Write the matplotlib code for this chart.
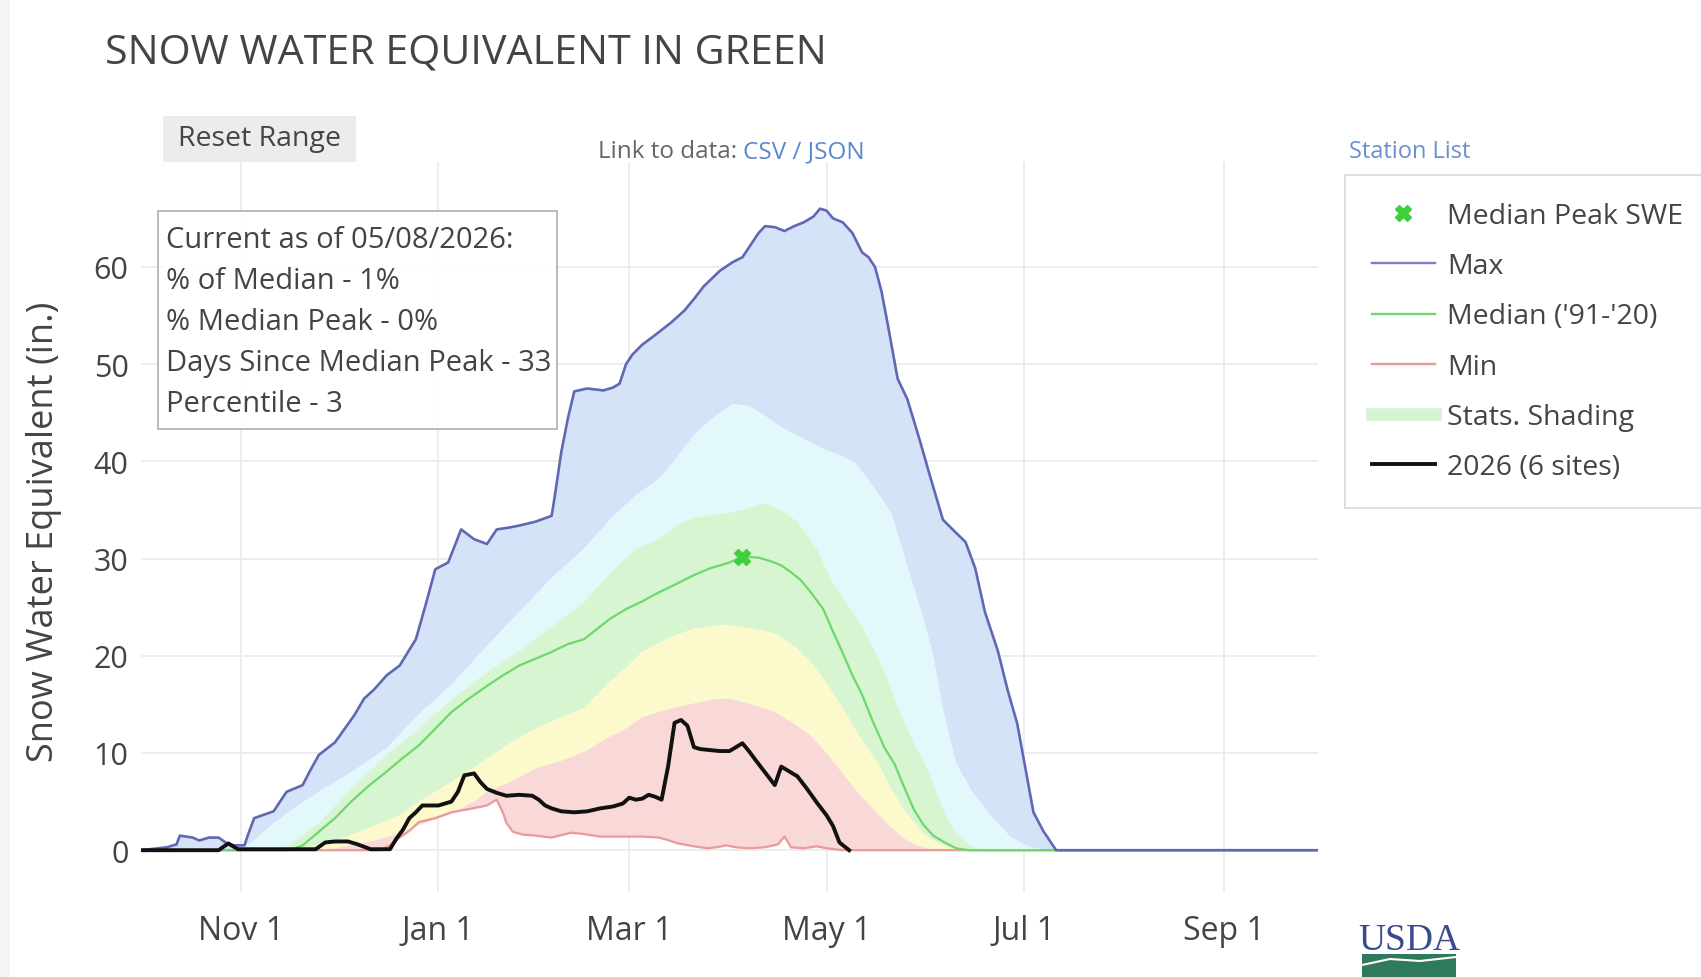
import numpy as np
import pandas as pd
import matplotlib
matplotlib.use("Agg")
import matplotlib.pyplot as plt
import matplotlib.dates as mdates
from matplotlib.lines import Line2D
from matplotlib.patches import Rectangle

plt.rcParams['font.family'] = ['Open Sans', 'DejaVu Sans']

# ---------------- data (days since Oct 1, 2025 ; SWE inches) ----------------
water_year_start = "2025-10-01"

max_days = [0, 8, 11, 12, 16, 18, 21, 24, 27, 29, 32, 33, 35, 41, 45, 50, 52, 55, 60, 63, 66,
            69, 72, 76, 80, 85, 88, 91, 95, 99, 103, 107, 110, 114, 117, 122, 127, 128,
            130, 132, 134, 138, 143, 146, 148, 150, 152, 155, 159, 164, 168, 171, 174, 179,
            183, 186, 189, 191, 193, 196, 199, 202, 205, 208, 210, 212, 214, 217, 220, 223,
            225, 227, 229, 231, 234, 237, 241, 244, 248, 251, 255, 258, 261, 265, 268, 271,
            276, 279, 283, 364]
max_vals = [0, 0.3, 0.6, 1.5, 1.3, 1.0, 1.3, 1.3, 0.6, 0.5, 0.5, 1.5, 3.3, 4, 6, 6.7, 8, 9.8,
            11.1, 12.5, 13.9, 15.6, 16.5, 18, 19, 21.7, 25.2, 28.9, 29.6, 33, 32, 31.5, 33,
            33.2, 33.4, 33.8, 34.4, 36.5, 41, 44.4, 47.2, 47.5, 47.3, 47.6, 48, 50, 51, 52,
            53, 54.3, 55.5, 56.7, 58, 59.6, 60.5, 61, 62.5, 63.5, 64.2, 64.1, 63.7, 64.2,
            64.6, 65.2, 66, 65.8, 65, 64.6, 63.5, 61.5, 61, 60, 57.5, 54, 48.5, 46.4, 42,
            38.5, 34, 33, 31.7, 29, 24.5, 20.5, 16.5, 13, 3.9, 2.0, 0, 0]

p90_days = [0, 30, 35, 40, 46, 55, 65, 76, 86, 96, 107, 117, 127, 137, 145, 153, 161, 166,
            171, 177, 183, 188, 192, 198, 205, 211, 217, 221, 226, 232, 237, 242, 245, 248,
            252, 257, 263, 269, 275, 280, 364]
p90_vals = [0, 0, 1, 2.5, 4, 6, 8, 10.5, 14, 17, 21, 24.5, 28, 31, 34, 36.5, 38.4, 40.5,
            42.7, 44.5, 45.9, 45.7, 44.9, 43.5, 42.3, 41.3, 40.5, 39.8, 37.6, 34.7, 29.2,
            23.7, 20, 14.5, 9, 6, 3.5, 1.3, 0.3, 0, 0]

p70_days = [0, 40, 46, 55, 65, 76, 86, 96, 107, 117, 127, 137, 145, 153, 160, 166, 171,
            176, 182, 188, 193, 198, 203, 209, 214, 219, 223, 227, 231, 235, 239, 243, 246,
            249, 252, 256, 260, 364]
p70_vals = [0, 0, 0.5, 2.8, 6.3, 9.8, 12.5, 15.5, 18.3, 20.5, 23, 25.5, 28.5, 31, 32, 33.5,
            34.2, 34.5, 34.7, 35.2, 35.7, 35, 33.8, 31, 27.5, 25, 23, 20.5, 17.5, 14, 11,
            8.5, 6, 3.5, 1.8, 0.6, 0, 0]

median_days = [0, 46, 50, 55, 60, 65, 70, 76, 81, 86, 91, 96, 101, 107, 112, 117, 122, 127,
               132, 137, 145, 150, 155, 160, 165, 171, 176, 182, 186, 191, 195, 198, 201,
               204, 207, 211, 214, 217, 220, 223, 226, 230, 233, 236, 239, 242, 245, 248,
               252, 256, 364]
median_vals = [0, 0, 0.5, 1.9, 3.3, 5, 6.5, 8.1, 9.5, 10.8, 12.5, 14.2, 15.5, 16.9, 18, 19,
               19.7, 20.4, 21.2, 21.7, 23.8, 24.8, 25.6, 26.5, 27.3, 28.3, 29, 29.6, 30.2,
               30.1, 29.7, 29.3, 28.6, 27.8, 26.6, 24.8, 22.5, 20.3, 18, 16, 13.5, 10.5, 8.9,
               6.5, 4.2, 2.6, 1.5, 0.9, 0.2, 0, 0]

p30_days = [0, 50, 54, 62, 70, 80, 86, 96, 107, 114, 122, 129, 137, 144, 150, 155, 163, 171,
            181, 189, 196, 202, 207, 212, 217, 222, 228, 232, 236, 242, 246, 250, 254, 364]
p30_vals = [0, 0, 0.5, 1.2, 2.2, 3.6, 5, 7, 9.4, 11, 12.5, 13.5, 14.6, 17, 18.8, 20.4, 21.8,
            22.8, 23.2, 22.8, 22.3, 21, 19.4, 17.2, 14.6, 11.8, 8.9, 6.3, 4.1, 1.7, 0.8, 0.3,
            0, 0]

p10_days = [0, 54, 60, 65, 72, 80, 86, 95, 103, 107, 114, 122, 130, 137, 144, 150, 155, 163,
            171, 177, 182, 189, 196, 202, 207, 212, 217, 222, 228, 232, 236, 240, 243, 247,
            364]
p10_vals = [0, 0, 0.2, 0.5, 1, 1.7, 2.6, 3.6, 5, 6, 7, 8.4, 9.2, 10.1, 11.5, 12.5, 13.7,
            14.5, 15.1, 15.5, 15.6, 15, 14.2, 13, 11.8, 10, 7.9, 5.8, 3.7, 2.3, 1.2, 0.5, 0.2,
            0, 0]

min_days = [0, 74, 77, 80, 83, 86, 91, 96, 101, 107, 110, 112, 113, 115, 118, 122, 127, 133,
            136, 142, 148, 155, 160, 163, 166, 171, 175, 178, 181, 184, 188, 193, 197, 199,
            201, 205, 209, 212, 217, 364]
min_vals = [0, 0, 0.5, 1.3, 2.0, 2.9, 3.3, 3.9, 4.2, 4.6, 5.2, 3.8, 2.8, 1.9, 1.6, 1.5, 1.3,
            1.8, 1.7, 1.4, 1.4, 1.4, 1.3, 1.05, 0.7, 0.4, 0.2, 0.3, 0.5, 0.3, 0.2, 0.3, 0.6,
            1.4, 0.3, 0.2, 0.4, 0.2, 0, 0]

cur_days = [0, 24, 27, 30, 54, 57, 60, 64, 67, 71, 77, 79, 81, 83, 85, 87, 90, 92, 96, 98,
            100, 103, 105, 107, 110, 113, 117, 121, 123, 125, 127, 130, 134, 138, 142, 146,
            149, 151, 153, 155, 157, 159, 161, 163, 165, 167, 169, 171, 173, 176, 179, 182,
            184, 186, 188, 190, 193, 196, 198, 200, 203, 206, 209, 212, 214, 216, 219]
cur_vals = [0, 0, 0.7, 0.1, 0.1, 0.8, 0.9, 0.9, 0.6, 0.1, 0.1, 1.2, 2.1, 3.3, 3.9, 4.6, 4.6,
            4.6, 5.0, 6.0, 7.7, 7.9, 7.0, 6.3, 5.9, 5.6, 5.7, 5.6, 5.2, 4.6, 4.3, 4.0, 3.9,
            4.0, 4.3, 4.5, 4.8, 5.4, 5.2, 5.3, 5.7, 5.5, 5.2, 8.6, 13.1, 13.4, 12.8, 10.6,
            10.4, 10.3, 10.2, 10.2, 10.6, 11.0, 10.2, 9.3, 8.0, 6.7, 8.6, 8.2, 7.6, 6.3, 4.9,
            3.6, 2.5, 0.8, 0]

peak_date = "2026-04-05"
peak_value = 30.2

tick_dates = ["2025-11-01", "2026-01-01", "2026-03-01", "2026-05-01", "2026-07-01", "2026-09-01"]
tick_labels = ["Nov 1", "Jan 1", "Mar 1", "May 1", "Jul 1", "Sep 1"]
y_ticks = [0, 10, 20, 30, 40, 50, 60]

info_lines = ["Current as of 05/08/2026:", "% of Median - 1%", "% Median Peak - 0%",
              "Days Since Median Peak - 33", "Percentile - 3"]

# ---------------- helpers ----------------
start = pd.Timestamp(water_year_start)


def dnum(days):
    return mdates.date2num(start + pd.to_timedelta(np.asarray(days, dtype=float), unit="D"))


def band(ax, up_d, up_v, lo_d, lo_v, color):
    xs = np.concatenate([dnum(up_d), dnum(lo_d)[::-1]])
    ys = np.concatenate([np.asarray(up_v), np.asarray(lo_v)[::-1]])
    ax.fill(xs, ys, color=color, lw=0, zorder=1)


# ---------------- figure ----------------
W, H = 1701, 978
fig = plt.figure(figsize=(W / 100, H / 100), dpi=100)
fig.patch.set_facecolor("white")


def fx(px):
    return px / W


def fy(py):
    return 1 - py / H


ax = fig.add_axes([fx(141), fy(893), fx(1318) - fx(141), fy(163) - fy(893)])
ax.set_facecolor("white")

c_blue = "#d5e3f8"
c_cyan = "#e3f8fb"
c_green = "#d7f5d1"
c_yellow = "#fcf9cd"
c_pink = "#f9d8d8"

band(ax, max_days, max_vals, p90_days, p90_vals, c_blue)
band(ax, p90_days, p90_vals, p70_days, p70_vals, c_cyan)
band(ax, p70_days, p70_vals, p30_days, p30_vals, c_green)
band(ax, p30_days, p30_vals, p10_days, p10_vals, c_yellow)
band(ax, p10_days, p10_vals, min_days, min_vals, c_pink)

ax.plot(dnum(min_days), min_vals, color="#e99a9a", lw=1.6, zorder=3)
ax.plot(dnum(median_days), median_vals, color="#6dd86d", lw=1.6, zorder=3)
ax.plot(dnum(max_days), max_vals, color="#6267b4", lw=1.9, zorder=4)
ax.plot(dnum(cur_days), cur_vals, color="#111111", lw=2.8, zorder=5,
        solid_joinstyle="round")
ax.plot(mdates.date2num(pd.Timestamp(peak_date)), peak_value, marker="X", ms=12,
        color="#3dcf3d", mec="#3dcf3d", zorder=6, ls="none")

ax.set_xlim(dnum([0])[0], dnum([364])[0])
ax.set_ylim(-4.3, 70.8)
ax.set_xticks(mdates.date2num(pd.to_datetime(tick_dates)))
ax.set_xticklabels(tick_labels)
ax.set_yticks(y_ticks)
ax.set_yticklabels([str(v) for v in y_ticks])
ax.tick_params(axis="both", length=0, labelcolor="#444444")
ax.tick_params(axis="x", pad=16, labelsize=23)
ax.tick_params(axis="y", pad=9, labelsize=22)
ax.grid(True, color="#ececec", lw=1.3, zorder=0)
ax.set_axisbelow(True)
for s in ax.spines.values():
    s.set_visible(False)

# info box
fig.patches.append(Rectangle((fx(158), fy(430)), fx(557) - fx(158), fy(212) - fy(430),
                             transform=fig.transFigure, fc="white", ec="#b0b0b0", lw=1.3,
                             alpha=0.93, zorder=5))
for i, line in enumerate(info_lines):
    fig.text(fx(166), fy(240 + i * 41.2), line, ha="left", va="center", fontsize=21,
             color="#444444", zorder=6)

# title and header elements
fig.text(fx(105), fy(63), "SNOW WATER EQUIVALENT IN GREEN", ha="left", va="baseline",
         fontsize=29.7, color="#444444")
fig.patches.append(Rectangle((fx(163), fy(163)), fx(356) - fx(163), fy(117) - fy(163),
                             transform=fig.transFigure, fc="#ececec", ec="none"))
fig.text(fx(259), fy(139), "Reset Range", ha="center", va="center", fontsize=20.5,
         color="#444444")
fig.text(fx(743), fy(152), "Link to data: ", ha="right", va="center", fontsize=17.5,
         color="#666666")
fig.text(fx(743), fy(152), "CSV / JSON", ha="left", va="center", fontsize=17.5,
         color="#5b86d0")
fig.text(fx(1349), fy(152), "Station List", ha="left", va="center", fontsize=17,
         color="#6b8fd0")

# y label
fig.text(fx(44), fy(532), "Snow Water Equivalent (in.)", rotation=90, ha="center",
         va="center", fontsize=26, color="#444444")

# legend
handles = [
    Line2D([], [], ls="none", marker="X", ms=12, color="#3dcf3d"),
    Line2D([], [], color="#7a7fc4", lw=1.7),
    Line2D([], [], color="#6dd86d", lw=1.7),
    Line2D([], [], color="#e99a9a", lw=1.7),
    Line2D([], [], color="#d3f5d3", lw=9),
    Line2D([], [], color="#111111", lw=2.8),
]
labels = ["Median Peak SWE", "Max", "Median ('91-'20)", "Min", "Stats. Shading",
          "2026 (6 sites)"]
leg = fig.legend(handles, labels, loc="upper left", bbox_to_anchor=(fx(1345), fy(176)),
                 fontsize=20.5, frameon=True, fancybox=False, edgecolor="#d0d0d0",
                 handlelength=2.2, handletextpad=0.43, labelspacing=0.78, borderpad=0.95,
                 borderaxespad=0)
leg.get_frame().set_linewidth(1.2)
for t in leg.get_texts():
    t.set_color("#444444")

# USDA mark
fig.text(fx(1409), fy(950), "USDA", ha="center", va="baseline", fontsize=27,
         family=["Liberation Serif", "DejaVu Serif"], color="#3a4a8e")
fig.patches.append(Rectangle((fx(1362), 0), fx(1456) - fx(1362), fy(955),
                             transform=fig.transFigure, fc="#2f7a5a", ec="none"))
fig.lines.append(Line2D([fx(1362), fx(1390), fx(1420), fx(1456)],
                        [fy(966), fy(960), fy(962), fy(958)], transform=fig.transFigure,
                        color="white", lw=1.5))

# faint page edge
fig.patches.append(Rectangle((0, 0), fx(10), 1, transform=fig.transFigure,
                             fc="#f4f4f4", ec="none"))

fig.savefig("out.png", dpi=100)
